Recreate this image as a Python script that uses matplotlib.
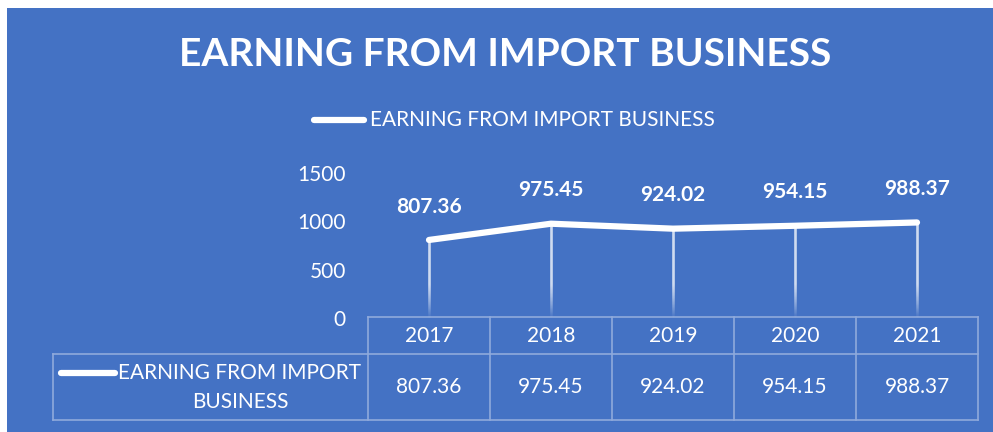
import numpy as np
import matplotlib.pyplot as plt
from matplotlib.collections import LineCollection

years = ['2017', '2018', '2019', '2020', '2021']
earnings = [807.36, 975.45, 924.02, 954.15, 988.37]
series_name = 'EARNING FROM IMPORT BUSINESS'
yticks = [0, 500, 1000, 1500]

W, H = 993, 432
bg = '#4472C4'
grid_c = '#8FAADC'
font = 'Lato'

fig = plt.figure(figsize=(W / 100, H / 100), dpi=100)
fig.patch.set_facecolor('white')
# blue chart area (small white margin at top/left like the screenshot)
fig.patches.append(plt.Rectangle((7 / W, 0), 1, 1 - 8 / H, transform=fig.transFigure,
                                 facecolor=bg, edgecolor='none', zorder=-5))


def fx(px):
    return px / W


def fy(py):
    return 1 - py / H


# plot area
x0, x1 = 368, 978
ytop, ybot = 173, 318
ax = fig.add_axes([fx(x0), fy(ybot), fx(x1) - fx(x0), fy(ytop) - fy(ybot)])
ax.set_zorder(2)
ax.set_facecolor('none')
x = np.arange(len(years))
ax.set_xlim(-0.5, len(years) - 0.5)
ax.set_ylim(0, 1500)
for s in ax.spines.values():
    s.set_visible(False)
ax.set_xticks([])
ax.set_yticks(yticks)
ax.tick_params(axis='y', length=0, pad=16, labelcolor='white', labelsize=15)
for t in ax.get_yticklabels():
    t.set_fontfamily(font)

# drop lines fading towards the bottom
for xi, v in zip(x, earnings):
    ys = np.linspace(0, v, 120)
    segs = [[(xi, ys[i]), (xi, ys[i + 1])] for i in range(len(ys) - 1)]
    alphas = np.clip(ys[:-1] / 350.0, 0, 1)
    cols = [(1, 1, 1, a) for a in alphas]
    ax.add_collection(LineCollection(segs, colors=cols, linewidths=1.8, zorder=2))

ax.plot(x, earnings, color='white', lw=4.5, solid_capstyle='round',
        solid_joinstyle='round', zorder=3, clip_on=False)

for xi, v in zip(x, earnings):
    ax.annotate(f'{v:.2f}', (xi, v), xytext=(0, 24), textcoords='offset points',
                ha='center', va='center', color='white', fontsize=15,
                fontweight='bold', fontfamily=font)

# title and legend
fig.text(fx(505), fy(55), series_name, ha='center', va='center', color='white',
         fontsize=28, fontweight='bold', fontfamily=font)
fig.add_artist(plt.Line2D([fx(314), fx(364)], [fy(120), fy(120)], color='white', lw=4.5,
                          solid_capstyle='round', transform=fig.transFigure))
fig.text(fx(370), fy(120), series_name, ha='left', va='center', color='white',
         fontsize=15, fontfamily=font)

# data table
r0, r1, r2 = 317, 354, 420
cw = (x1 - x0) / len(years)
lk = dict(color=grid_c, lw=1.2, transform=fig.transFigure)
fig.add_artist(plt.Line2D([fx(x0), fx(x1)], [fy(r0), fy(r0)], **lk))
fig.add_artist(plt.Line2D([fx(53), fx(x1)], [fy(r1), fy(r1)], **lk))
fig.add_artist(plt.Line2D([fx(53), fx(x1)], [fy(r2), fy(r2)], **lk))
fig.add_artist(plt.Line2D([fx(53), fx(53)], [fy(r1), fy(r2)], **lk))
for i in range(len(years) + 1):
    xx = x0 + i * cw
    fig.add_artist(plt.Line2D([fx(xx), fx(xx)], [fy(r0), fy(r2)], **lk))
for i, (yr, v) in enumerate(zip(years, earnings)):
    cx = x0 + (i + 0.5) * cw
    fig.text(fx(cx), fy((r0 + r1) / 2), yr, ha='center', va='center', color='white',
             fontsize=15, fontfamily=font)
    fig.text(fx(cx), fy((r1 + r2) / 2), f'{v:.2f}', ha='center', va='center',
             color='white', fontsize=15, fontfamily=font)

fig.add_artist(plt.Line2D([fx(61), fx(115)], [fy(373), fy(373)], color='white', lw=4.5,
                          solid_capstyle='round', transform=fig.transFigure))
fig.text(fx(240), fy(373), 'EARNING FROM IMPORT', ha='center', va='center',
         color='white', fontsize=15, fontfamily=font)
fig.text(fx(240), fy(402), 'BUSINESS', ha='center', va='center',
         color='white', fontsize=15, fontfamily=font)

fig.savefig('out.png', dpi=100, facecolor=fig.get_facecolor())
